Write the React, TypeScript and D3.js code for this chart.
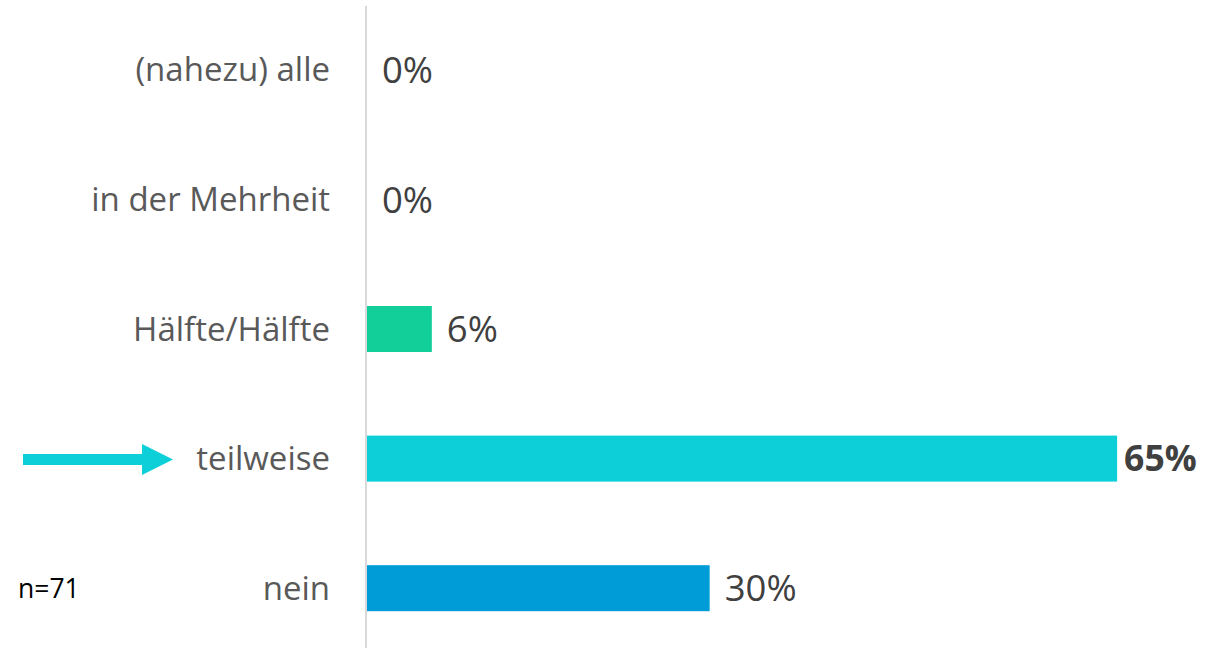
import React from "react";
import * as d3 from "d3";

const categories = ["(nahezu) alle", "in der Mehrheit", "Hälfte/Hälfte", "teilweise", "nein"];
const values = [0, 0, 5.6, 64.8, 29.6];
const valueLabels = ["0%", "0%", "6%", "65%", "30%"];
const colors = ["#12cf9a", "#12cf9a", "#12cf9a", "#0ccfd8", "#009cd8"];
const highlighted = "teilweise";
const sampleNote = "n=71";

const W = 1205;
const H = 648;

export default function App() {
  const x = d3.scaleLinear().domain([0, 100]).range([367, 367 + 1157.6]);
  const y = d3
    .scaleBand<string>()
    .domain(categories)
    .range([5, 653])
    .paddingInner(0.645)
    .paddingOuter(0.3225);
  const bw = y.bandwidth();
  const font = "'Open Sans', sans-serif";
  const hy = (y(highlighted) ?? 0) + bw / 2;

  return (
    <svg width={W} height={H} style={{ position: "absolute", left: 0, top: 0 }}>
      <rect width={W} height={H} fill="#ffffff" />
      {categories.map((c, i) => {
        const yc = (y(c) ?? 0) + bw / 2;
        const isHi = c === highlighted;
        return (
          <g key={c}>
            {values[i] > 0 && (
              <rect x={x(0)} y={y(c)} width={x(values[i]) - x(0)} height={bw} fill={colors[i]} />
            )}
            <text
              x={330}
              y={yc}
              dy="0.35em"
              textAnchor="end"
              fontFamily={font}
              fontSize={33}
              fill="#595959"
            >
              {c}
            </text>
            <text
              x={x(values[i]) + (isHi ? 7 : 15)}
              y={yc}
              dy="0.36em"
              fontFamily={font}
              fontSize={isHi ? 35.5 : 36.5}
              fontWeight={isHi ? 700 : 400}
              fill="#404040"
            >
              {valueLabels[i]}
            </text>
          </g>
        );
      })}
      <line x1={366} x2={366} y1={6} y2={H} stroke="#d9d9d9" strokeWidth={2} />
      <line x1={23} x2={145} y1={hy + 1} y2={hy + 1} stroke="#0ccfd8" strokeWidth={11} />
      <path
        d={`M142,${hy + 1 - 15.5} L173,${hy + 1} L142,${hy + 1 + 15.5} Z`}
        fill="#0ccfd8"
      />
      <text x={18} y={598} fontFamily={font} fontSize={26.5} fill="#000000">
        {sampleNote}
      </text>
    </svg>
  );
}
